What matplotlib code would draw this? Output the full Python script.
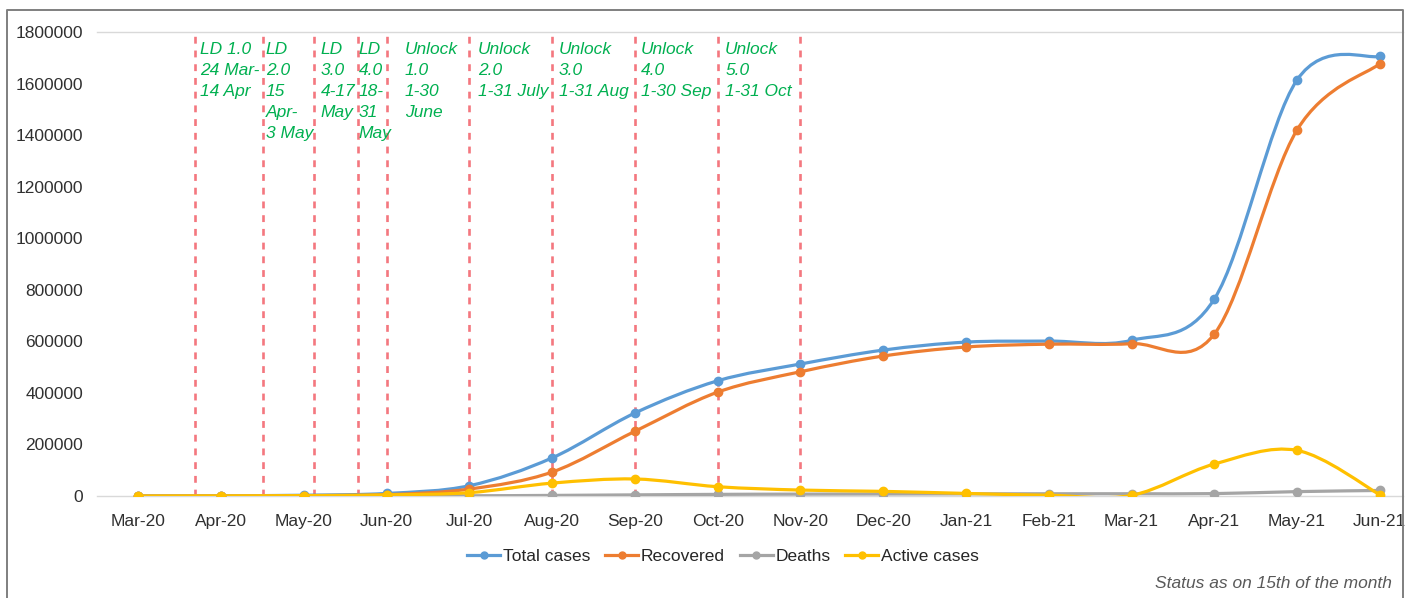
import numpy as np
import matplotlib
matplotlib.use('Agg')
import matplotlib.pyplot as plt
from matplotlib.path import Path
from matplotlib.patches import PathPatch
from matplotlib.lines import Line2D

# monthly status (as on the 15th)
months = ['Mar-20', 'Apr-20', 'May-20', 'Jun-20', 'Jul-20', 'Aug-20',
          'Sep-20', 'Oct-20', 'Nov-20', 'Dec-20', 'Jan-21', 'Feb-21',
          'Mar-21', 'Apr-21', 'May-21', 'Jun-21']
total_cases = [0, 1000, 3000, 10000, 40000, 148000, 322000, 447000, 512000,
               566000, 597000, 601000, 604000, 764000, 1614000, 1706000]
recovered = [0, 200, 1500, 5000, 27000, 93000, 251000, 403000, 482000,
             543000, 578000, 589000, 591000, 628000, 1420000, 1677000]
deaths = [0, 20, 100, 300, 900, 2300, 4400, 6300, 7300, 7800, 8400, 8700,
          8800, 9300, 17000, 21500]
active_cases = [0, 700, 1500, 4500, 13000, 50000, 66000, 36000, 23000,
                18000, 10000, 3000, 2500, 124000, 177000, 5000]

# lockdown / unlock phases: start of each phase (in month index units)
phase_starts = [0.68, 1.50, 2.12, 2.65, 3.0, 4.0, 5.0, 6.0, 7.0, 8.0]
phase_labels = ['LD 1.0\n24 Mar-\n14 Apr', 'LD\n2.0\n15\nApr-\n3 May',
                'LD\n3.0\n4-17\nMay', 'LD\n4.0\n18-\n31\nMay',
                'Unlock\n1.0\n1-30\nJune', 'Unlock\n2.0\n1-31 July',
                'Unlock\n3.0\n1-31 Aug', 'Unlock\n4.0\n1-30 Sep',
                'Unlock\n5.0\n1-31 Oct']
label_pos = [0.74, 1.54, 2.20, 2.66, 3.22, 4.10, 5.08, 6.07, 7.09]

y_ticks = list(range(0, 1800001, 200000))

plt.rcParams['font.family'] = ['Liberation Sans', 'DejaVu Sans']

W, H = 1415, 598


def smooth_path(x, y):
    '''Return a cubic bezier path through the points, with control points
    set the Catmull-Rom way (ends use the end point as its own neighbour).'''
    x = np.asarray(x, float)
    y = np.asarray(y, float)
    xp = np.r_[x[0], x, x[-1]]
    yp = np.r_[y[0], y, y[-1]]
    verts = [(x[0], y[0])]
    codes = [Path.MOVETO]
    for i in range(len(x) - 1):
        c1 = (x[i] + (xp[i + 2] - xp[i]) / 6, y[i] + (yp[i + 2] - yp[i]) / 6)
        c2 = (x[i + 1] - (xp[i + 3] - xp[i + 1]) / 6,
              y[i + 1] - (yp[i + 3] - yp[i + 1]) / 6)
        verts += [c1, c2, (x[i + 1], y[i + 1])]
        codes += [Path.CURVE4] * 3
    return Path(verts, codes)


fig = plt.figure(figsize=(W / 100, H / 100), dpi=100)
ax = fig.add_axes([97 / W, 1 - 496 / H, (1403 - 97) / W, (496 - 32) / H])

x = np.arange(len(months))

# phase boundaries and their notes
for xs in phase_starts:
    ax.axvline(xs, color='#F4777F', lw=1.9, ls=(0, (2.6, 2.6)), zorder=1)
for xs, txt in zip(label_pos, phase_labels):
    ax.text(xs, 1762000, txt, color='#00B050', style='italic', fontsize=12.5,
            va='top', ha='left', linespacing=1.5, zorder=2)

series = [(total_cases, '#5B9BD5', 'Total cases'),
          (recovered, '#ED7D31', 'Recovered'),
          (deaths, '#A5A5A5', 'Deaths'),
          (active_cases, '#FFC000', 'Active cases')]

handles = []
for k, (vals, col, name) in enumerate(series):
    patch = PathPatch(smooth_path(x, vals), fill=False, edgecolor=col,
                      lw=2.3, capstyle='round', joinstyle='round',
                      zorder=3 + k)
    ax.add_patch(patch)
    ax.plot(x, vals, 'o', color=col, ms=6, zorder=3 + k)
    handles.append(Line2D([], [], color=col, lw=2.3, marker='o', ms=5,
                          label=name))

ax.set_xlim(-0.5, 15.28)
ax.set_ylim(0, 1800000)
ax.set_xticks(x)
ax.set_xticklabels(months)
ax.set_yticks(y_ticks)
ax.set_yticklabels([str(v) for v in y_ticks])
ax.tick_params(length=0, labelsize=12.5, labelcolor='#303030')
ax.tick_params(axis='y', pad=10)
ax.tick_params(axis='x', pad=13)

for side in ['left', 'right']:
    ax.spines[side].set_visible(False)
for side in ['top', 'bottom']:
    ax.spines[side].set_color('#D9D9D9')
    ax.spines[side].set_linewidth(1.0)

fig.legend(handles=handles, loc='center', bbox_to_anchor=(723 / W, 1 - 556 / H),
           ncol=4, frameon=False, fontsize=12.5, handlelength=1.9,
           handletextpad=0.15, columnspacing=0.85, labelcolor='#262626')

fig.text(1392 / W, 1 - 583 / H, 'Status as on 15th of the month',
         style='italic', color='#595959', fontsize=12.5, ha='right',
         va='center')

# chart frame (left, top and right edges)
fig.add_artist(Line2D([7 / W, 7 / W, 1403 / W, 1403 / W],
                      [0, 1 - 10 / H, 1 - 10 / H, 0],
                      transform=fig.transFigure, color='#7F7F7F', lw=1.4))

fig.savefig('out.png', dpi=100)
